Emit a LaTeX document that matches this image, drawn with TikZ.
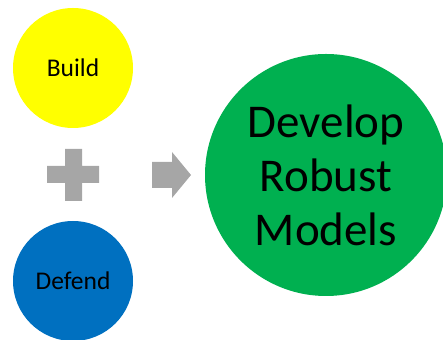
\documentclass[tikz,border=0pt]{standalone}
\usepackage{fontspec}
\setmainfont{Carlito}
\definecolor{buildyellow}{HTML}{FFFF00}
\definecolor{defendblue}{HTML}{0070C0}
\definecolor{robustgreen}{HTML}{00B050}
\definecolor{signgray}{HTML}{A6A6A6}
\tikzset{
  ball/.style={circle, inner sep=0pt, minimum size=#1, align=center, text=black},
  sign/.style={fill=signgray, draw=none}
}
\begin{document}
\begin{tikzpicture}[x=1pt,y=1pt]
  \clip (0,0) rectangle (443,339);
  \useasboundingbox (0,0) rectangle (443,339);
  \node[ball=120pt, fill=buildyellow, font=\fontsize{25.5}{30}\selectfont] (build) at (73,271) {Build}; %top
  \node[ball=120pt, fill=defendblue, font=\fontsize{25.5}{30}\selectfont] (defend) at (73,58) {Defend}; %bottom
  \node[ball=242pt, fill=robustgreen, font=\fontsize{47}{54}\selectfont] (models) at (326,164) {Develop\\Robust\\Models}; %result
  \fill[sign] (65,190) -- (82,190) -- (82,173) -- (99,173) -- (99,156) -- (82,156) -- (82,138) -- (65,138) -- (65,156) -- (47,156) -- (47,173) -- (65,173) -- cycle; %plus
  \fill[sign] (152,177) -- (172,177) -- (172,187) -- (191,164) -- (172,141) -- (172,151) -- (152,151) -- cycle; %arrow
\end{tikzpicture}
\end{document}
